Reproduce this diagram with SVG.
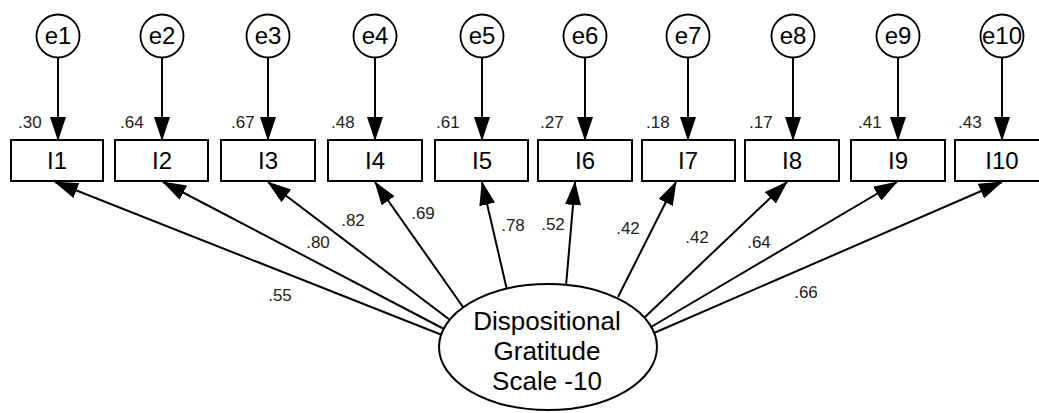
<svg xmlns="http://www.w3.org/2000/svg" width="1039" height="413" viewBox="0 0 1039 413">
<style>
.bg{fill:#fff}
.err circle{fill:#fff;stroke:#000;stroke-width:1.8}
.box rect{fill:#fff;stroke:#000;stroke-width:2}
.lbl{font-family:"Liberation Sans",Arial,sans-serif;font-size:24px;fill:#000;text-anchor:middle}
.lat{font-family:"Liberation Sans",Arial,sans-serif;font-size:26px;fill:#000;text-anchor:middle}
.coef{font-family:"Liberation Sans",Arial,sans-serif;font-size:17px;fill:#222}
.mid{text-anchor:middle}
#connectors line{stroke:#000;stroke-width:2;fill:none;marker-end:url(#ah)}
</style>
<defs>
<marker id="ah" markerUnits="userSpaceOnUse" markerWidth="24" markerHeight="16" viewBox="0 0 24 16" refX="23" refY="8" orient="auto">
<path d="M0,0 L24,8 L0,16 z" fill="#000"/>
</marker>
</defs>
<rect class="bg" x="0" y="0" width="1039" height="413"/>

<g id="connectors">
<line x1="58" y1="57" x2="58" y2="140"/>
<line x1="162" y1="57" x2="162" y2="140"/>
<line x1="268" y1="57" x2="268" y2="140"/>
<line x1="375" y1="57" x2="375" y2="140"/>
<line x1="482" y1="57" x2="482" y2="140"/>
<line x1="585" y1="57" x2="585" y2="140"/>
<line x1="688" y1="57" x2="688" y2="140"/>
<line x1="793" y1="57" x2="793" y2="140"/>
<line x1="898" y1="57" x2="898" y2="140"/>
<line x1="1002" y1="57" x2="1002" y2="140"/>
<line x1="442" y1="335" x2="55" y2="182"/>
<line x1="444" y1="329" x2="163" y2="182"/>
<line x1="450" y1="320" x2="268" y2="182"/>
<line x1="463" y1="307" x2="375" y2="182"/>
<line x1="507" y1="290" x2="482" y2="182"/>
<line x1="566" y1="286" x2="575" y2="182"/>
<line x1="618" y1="297" x2="676" y2="182"/>
<line x1="644" y1="318" x2="787" y2="182"/>
<line x1="651" y1="327" x2="897" y2="182"/>
<line x1="654" y1="333" x2="1002" y2="182"/>
</g>

<g id="coefficients">
<text class="coef" x="18" y="128">.30</text>
<text class="coef" x="120" y="128">.64</text>
<text class="coef" x="231" y="128">.67</text>
<text class="coef" x="331" y="128">.48</text>
<text class="coef" x="436" y="128">.61</text>
<text class="coef" x="540" y="128">.27</text>
<text class="coef" x="646" y="128">.18</text>
<text class="coef" x="749" y="128">.17</text>
<text class="coef" x="858" y="128">.41</text>
<text class="coef" x="958" y="128">.43</text>
<text class="coef mid" x="280" y="301">.55</text>
<text class="coef mid" x="318" y="248">.80</text>
<text class="coef mid" x="353" y="226">.82</text>
<text class="coef mid" x="423" y="219">.69</text>
<text class="coef mid" x="513" y="231">.78</text>
<text class="coef mid" x="553" y="230">.52</text>
<text class="coef mid" x="628" y="234">.42</text>
<text class="coef mid" x="697" y="243">.42</text>
<text class="coef mid" x="759" y="248">.64</text>
<text class="coef mid" x="806" y="298">.66</text>
</g>

<g id="e1" class="err"><circle cx="58" cy="36" r="21.5"/><text class="lbl" x="58" y="44">e1</text></g>
<g id="e2" class="err"><circle cx="162" cy="36" r="21.5"/><text class="lbl" x="162" y="44">e2</text></g>
<g id="e3" class="err"><circle cx="268" cy="36" r="21.5"/><text class="lbl" x="268" y="44">e3</text></g>
<g id="e4" class="err"><circle cx="375" cy="36" r="21.5"/><text class="lbl" x="375" y="44">e4</text></g>
<g id="e5" class="err"><circle cx="482" cy="36" r="21.5"/><text class="lbl" x="482" y="44">e5</text></g>
<g id="e6" class="err"><circle cx="585" cy="36" r="21.5"/><text class="lbl" x="585" y="44">e6</text></g>
<g id="e7" class="err"><circle cx="688" cy="36" r="21.5"/><text class="lbl" x="688" y="44">e7</text></g>
<g id="e8" class="err"><circle cx="793" cy="36" r="21.5"/><text class="lbl" x="793" y="44">e8</text></g>
<g id="e9" class="err"><circle cx="898" cy="36" r="21.5"/><text class="lbl" x="898" y="44">e9</text></g>
<g id="e10" class="err"><circle cx="1002" cy="36" r="21.5"/><text class="lbl" x="1002" y="44">e10</text></g>

<g id="I1" class="box"><rect x="11" y="140" width="92" height="41"/><text class="lbl" x="57" y="169">I1</text></g>
<g id="I2" class="box"><rect x="115" y="140" width="93" height="41"/><text class="lbl" x="162" y="169">I2</text></g>
<g id="I3" class="box"><rect x="221" y="140" width="94" height="41"/><text class="lbl" x="268" y="169">I3</text></g>
<g id="I4" class="box"><rect x="328" y="140" width="94" height="41"/><text class="lbl" x="375" y="169">I4</text></g>
<g id="I5" class="box"><rect x="435" y="140" width="93" height="41"/><text class="lbl" x="482" y="169">I5</text></g>
<g id="I6" class="box"><rect x="538" y="140" width="94" height="41"/><text class="lbl" x="585" y="169">I6</text></g>
<g id="I7" class="box"><rect x="642" y="140" width="93" height="41"/><text class="lbl" x="688" y="169">I7</text></g>
<g id="I8" class="box"><rect x="745" y="140" width="94" height="41"/><text class="lbl" x="792" y="169">I8</text></g>
<g id="I9" class="box"><rect x="851" y="140" width="94" height="41"/><text class="lbl" x="898" y="169">I9</text></g>
<g id="I10" class="box"><rect x="955" y="140" width="94" height="41"/><text class="lbl" x="1002" y="169">I10</text></g>

<g id="DGS">
<ellipse cx="548" cy="347" rx="109" ry="63" fill="#fff" stroke="#000" stroke-width="2"/>
<text class="lat" x="547" y="330">Dispositional</text>
<text class="lat" x="547" y="360">Gratitude</text>
<text class="lat" x="547" y="390">Scale -10</text>
</g>
</svg>
